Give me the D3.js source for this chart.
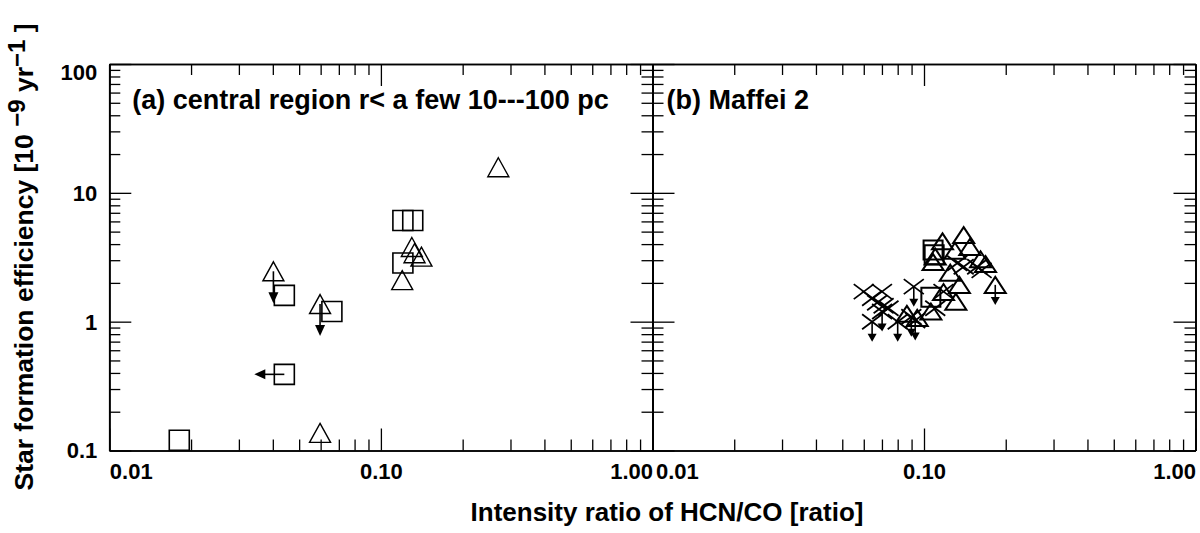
<!DOCTYPE html>
<html><head><meta charset="utf-8">
<script src="https://cdn.jsdelivr.net/npm/d3@7"></script>
<style>
body{margin:0;background:#fff}
svg text{font-family:"Liberation Sans",Arial,Helvetica,sans-serif;font-weight:bold;fill:#000}
</style></head><body>
<svg id="c" width="1200" height="533"></svg>
<script>
// ---------- data ----------
const xTicks = [0.01, 0.1, 1];
const xTickLabels = ["0.01", "0.10", "1.00"];
const yTicks = [0.1, 1, 10, 100];
const yTickLabels = ["0.1", "1", "10", "100"];
const panelTitles = ["(a) central region r< a few 10---100 pc", "(b) Maffei 2"];
const xTitle = "Intensity ratio of HCN/CO [ratio]";

// panel (a)
const aSquares = [[0.0181, 0.12], [0.0441, 1.6], [0.066, 1.2], [0.1205, 2.85], [0.1205, 6.1], [0.131, 6.1]];
const aSquaresXLimit = [[0.0441, 0.39]];
const aTriangles = [[0.0597, 0.137], [0.1198, 2.1], [0.130, 3.8], [0.141, 3.2], [0.133, 3.4], [0.2706, 15.8]];
const aTrianglesYLimit = [[0.0402, 2.46], [0.0597, 1.37]];

// panel (b)
const bSquares = [[0.108, 3.6], [0.109, 3.3], [0.106, 1.55]];
const bTriangles = [[0.140, 4.7], [0.117, 4.2], [0.1475, 3.8], [0.130, 3.55], [0.1615, 3.05], [0.1685, 2.8],
  [0.110, 3.2], [0.108, 2.9], [0.125, 2.4], [0.135, 1.93], [0.118, 1.7], [0.131, 1.43], [0.106, 1.2],
  [0.0865, 1.15], [0.0944, 1.07]];
const bTrianglesYLimit = [[0.183, 1.93]];
const bCrosses = [[0.060, 1.71], [0.070, 1.71], [0.0644, 1.52], [0.0672, 1.40], [0.071, 1.33], [0.074, 1.27],
  [0.110, 1.27], [0.118, 1.71], [0.1325, 2.84], [0.140, 2.67], [0.157, 2.67], [0.163, 2.5]];
const bCrossesYLimit = [[0.0917, 1.87], [0.0644, 1.0], [0.0701, 1.2], [0.080, 1.0], [0.0898, 1.09], [0.0928, 1.02]];

// ---------- layout ----------
const svg = d3.select("#c");
const yTop = 64, yBot = 450.5;
const panelX = [[109.3, 652.5], [652.5, 1195.5]];

function isMajor(v, majors) { return majors.some(m => Math.abs(Math.log10(v) - Math.log10(m)) < 1e-6); }

function drawPanel(pi) {
  const [x0, x1] = panelX[pi];
  const x = d3.scaleLog().domain([xTicks[0], xTicks[xTicks.length - 1]]).range([x0, x1]);
  const y = d3.scaleLog().domain([yTicks[0], yTicks[yTicks.length - 1]]).range([yBot, yTop]);
  const g = svg.append("g");
  const minorX = x.ticks().filter(v => !isMajor(v, xTicks));
  const minorY = y.ticks().filter(v => !isMajor(v, yTicks));
  const MAJ = -22, MIN = -11;

  function ax(gen, tr, vals, size, fmt, pad) {
    const a = gen.tickValues(vals).tickSizeInner(size).tickSizeOuter(0).tickFormat(fmt || "").tickPadding(pad || 3);
    const s = g.append("g").attr("transform", tr).call(a);
    s.attr("font-size", null).attr("font-family", null);
    s.selectAll(".domain").attr("stroke", "#000").attr("stroke-width", 1.7);
    s.selectAll(".tick line").attr("stroke", "#000").attr("stroke-width", 1.3);
    return s;
  }
  // bottom
  ax(d3.axisBottom(x), `translate(0,${yBot})`, minorX, MIN);
  const bx = ax(d3.axisBottom(x), `translate(0,${yBot})`, xTicks, MAJ, d => xTickLabels[xTicks.indexOf(d)], 13);
  bx.selectAll("text").style("font-size", "22px")
    .attr("text-anchor", (d, i) => i === 0 ? "start" : (i === xTicks.length - 1 ? "end" : "middle"))
    .attr("x", (d, i) => i === 0 ? (pi === 0 ? 0 : 3) : 0);
  // top
  ax(d3.axisTop(x), `translate(0,${yTop})`, minorX, MIN);
  ax(d3.axisTop(x), `translate(0,${yTop})`, xTicks, MAJ);
  // left
  ax(d3.axisLeft(y), `translate(${x0},0)`, minorY, MIN);
  const ly = ax(d3.axisLeft(y), `translate(${x0},0)`, yTicks, MAJ, pi === 0 ? (d => yTickLabels[yTicks.indexOf(d)]) : "", 12);
  ly.selectAll("text").style("font-size", "22px")
    .attr("dy", d => d === yTicks[yTicks.length - 1] ? "0.72em" : "0.34em");
  // right
  ax(d3.axisRight(y), `translate(${x1},0)`, minorY, MIN);
  ax(d3.axisRight(y), `translate(${x1},0)`, yTicks, MAJ);

  // title
  g.append("text").attr("x", x0 + (pi === 0 ? 23 : 14)).attr("y", 109)
    .style("font-size", "27px").text(panelTitles[pi]);

  return { x, y, g };
}

const A = drawPanel(0), B = drawPanel(1);

// ---------- marker helpers ----------
function sqPath(cx, cy, s) { const h = s / 2; return `M${cx - h},${cy - h}H${cx + h}V${cy + h}H${cx - h}Z`; }
function triPath(cx, cy, w, h) { return `M${cx},${cy - h / 2}L${cx + w / 2},${cy + h / 2}L${cx - w / 2},${cy + h / 2}Z`; }
function xPath(cx, cy, w, h) { return `M${cx - w / 2},${cy - h / 2}L${cx + w / 2},${cy + h / 2}M${cx - w / 2},${cy + h / 2}L${cx + w / 2},${cy - h / 2}`; }

function markers(P, data, kind, opt) {
  P.g.append("g").selectAll("path").data(data).join("path")
    .attr("d", d => {
      const cx = P.x(d[0]), cy = P.y(d[1]);
      if (kind === "sq") return sqPath(cx, cy, opt.s);
      if (kind === "tri") return triPath(cx, cy, opt.w, opt.h);
      return xPath(cx, cy, opt.w, opt.h);
    })
    .attr("fill", "none").attr("stroke", "#000").attr("stroke-width", opt.sw)
    .attr("stroke-linejoin", "miter");
}
function arrows(P, data, dir, opt) {
  const gg = P.g.append("g");
  data.forEach(d => {
    const cx = P.x(d[0]), cy = P.y(d[1]);
    const L = opt.len, hl = opt.hl, hw = opt.hw;
    if (dir === "down") {
      gg.append("line").attr("x1", cx).attr("y1", cy).attr("x2", cx).attr("y2", cy + L - hl + 1)
        .attr("stroke", "#000").attr("stroke-width", opt.sw);
      gg.append("path").attr("d", `M${cx - hw / 2},${cy + L - hl}L${cx + hw / 2},${cy + L - hl}L${cx},${cy + L}Z`).attr("fill", "#000");
    } else {
      gg.append("line").attr("x1", cx).attr("y1", cy).attr("x2", cx - L + hl - 1).attr("y2", cy)
        .attr("stroke", "#000").attr("stroke-width", opt.sw);
      gg.append("path").attr("d", `M${cx - L + hl},${cy - hw / 2}L${cx - L + hl},${cy + hw / 2}L${cx - L},${cy}Z`).attr("fill", "#000");
    }
  });
}

// panel (a)
const aSq = { s: 20, sw: 1.6 }, aTr = { w: 21, h: 19, sw: 1.4 };
markers(A, aSquares, "sq", aSq);
markers(A, aSquaresXLimit, "sq", aSq);
arrows(A, aSquaresXLimit, "left", { len: 30, hl: 11, hw: 10, sw: 1.6 });
markers(A, aTriangles, "tri", aTr);
markers(A, aTrianglesYLimit, "tri", aTr);
arrows(A, aTrianglesYLimit, "down", { len: 32, hl: 11, hw: 10, sw: 1.6 });

// panel (b)
const bSq = { s: 19, sw: 2 }, bTr = { w: 21, h: 16, sw: 2 }, bX = { w: 20, h: 15, sw: 1.8 };
markers(B, bSquares, "sq", bSq);
markers(B, bTriangles, "tri", bTr);
markers(B, bTrianglesYLimit, "tri", bTr);
arrows(B, bTrianglesYLimit, "down", { len: 20, hl: 8, hw: 9, sw: 1.6 });
markers(B, bCrosses, "x", bX);
markers(B, bCrossesYLimit, "x", bX);
arrows(B, bCrossesYLimit, "down", { len: 20, hl: 8, hw: 9, sw: 1.6 });

// ---------- axis titles ----------
svg.append("text").attr("x", 667).attr("y", 521).attr("text-anchor", "middle")
  .style("font-size", "26px").text(xTitle);

const yt = svg.append("text").attr("transform", "translate(33,257) rotate(-90)")
  .attr("text-anchor", "middle").style("font-size", "26.5px");
yt.append("tspan").text("Star formation efficiency [10 ");
yt.append("tspan").attr("dy", -8).style("font-size", "24px").text("−9");
yt.append("tspan").attr("dy", 8).text(" yr");
yt.append("tspan").attr("dy", -8).style("font-size", "24px").text("−1");
yt.append("tspan").attr("dy", 8).text(" ]");
</script>
</body></html>
